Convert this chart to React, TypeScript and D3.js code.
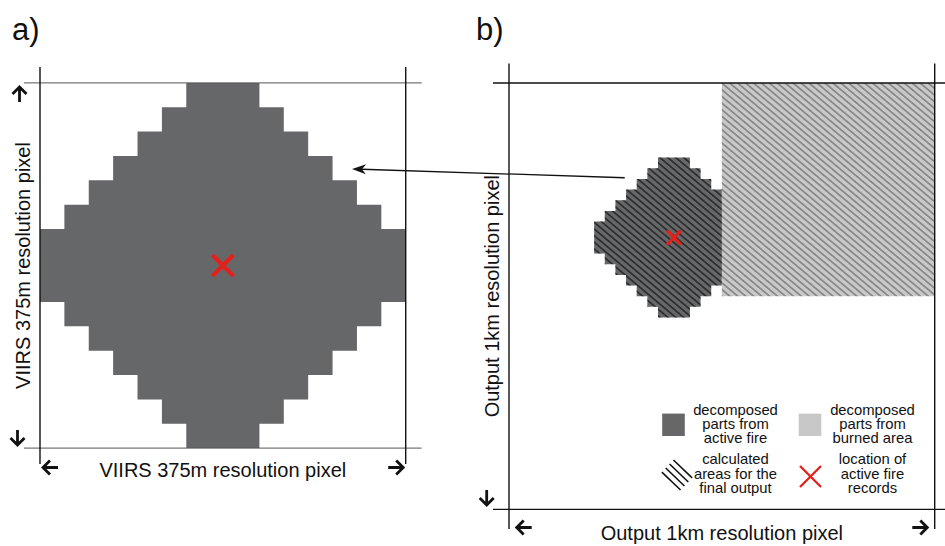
import React from "react";
import * as d3 from "d3";

const W = 945;
const H = 546;

// stepped footprint of one 375m detection, half-width (in sub-cells) of every row
const footprintRows = [1, 2, 3, 4, 5, 6, 7, 7, 7, 6, 5, 4, 3, 2, 1];
const footprintSize = 15;

// panel b: output grid in sub-cells, footprint offset and the burned-area block
const outputGridSize = 40;
const footprintOffsetB = [8, 7];
const burnedBlock = [20, 0, 40, 20]; // x0, y0, x1, y1

const panelTitles = ["a)", "b)"];
const axisLabelA = "VIIRS 375m resolution pixel";
const axisLabelB = "Output 1km resolution pixel";

const legendLabels = [
  ["decomposed", "parts from", "active fire"],
  ["decomposed", "parts from", "burned area"],
  ["calculated", "areas for the", "final output"],
  ["location of", "active fire", "records"],
];
const legendKinds = ["fire", "burned", "hatch", "cross"];

const FONT = "'Liberation Sans', Arial, Helvetica, sans-serif";
const DARK = "#666768";
const LIGHT = "#c8c8c8";
const RED = "#e3211c";
const hatchGap = 5.1;

// polygon outline of the stepped footprint, in grid units
function footprintPoints(x0: number, y0: number) {
  const c = (footprintSize - 1) / 2;
  const left = footprintRows.flatMap((e, r) => [
    [x0 + c - e, y0 + r],
    [x0 + c - e, y0 + r + 1],
  ]);
  const right = footprintRows
    .map((e, r) => [
      [x0 + c + e + 1, y0 + r + 1],
      [x0 + c + e + 1, y0 + r],
    ])
    .reverse()
    .flat();
  return [...left, ...right];
}

// open arrow with tip at (tx,ty) pointing along (dx,dy)
function axisArrow(tx: number, ty: number, dx: number, dy: number, len = 15, head = 7) {
  const bx = tx - dx * len, by = ty - dy * len;
  const hx = tx - dx * head, hy = ty - dy * head;
  const px = -dy, py = dx;
  return `M${bx},${by}L${tx},${ty}M${hx + px * head},${hy + py * head}L${tx},${ty}L${hx - px * head},${hy - py * head}`;
}

function Cross({ cx, cy, r, w }: { cx: number; cy: number; r: number; w: number }) {
  return (
    <path
      d={`M${cx - r},${cy - r}L${cx + r},${cy + r}M${cx - r},${cy + r}L${cx + r},${cy - r}`}
      stroke={RED}
      strokeWidth={w}
      fill="none"
    />
  );
}

export default function App() {
  const xA = d3.scaleLinear().domain([0, footprintSize]).range([40, 405.7]);
  const yA = d3.scaleLinear().domain([0, footprintSize]).range([82.9, 448.1]);
  const xB = d3.scaleLinear().domain([0, outputGridSize]).range([509, 934.7]);
  const yB = d3.scaleLinear().domain([0, outputGridSize]).range([83, 509.4]);

  const outline = (pts: number[][], xs: any, ys: any) =>
    d3.line<number[]>().x((p) => xs(p[0])).y((p) => ys(p[1]))(pts) + "Z";

  const fpA = outline(footprintPoints(0, 0), xA, yA);
  const fpB = outline(footprintPoints(footprintOffsetB[0], footprintOffsetB[1]), xB, yB);
  const mid = footprintSize / 2;

  const frame = (xs: any, ys: any, ext: number, extY: number, light: boolean) => {
    const [x0, x1] = xs.range();
    const [y0, y1] = ys.range();
    return (
      <g>
        {[y0, y1].map((y, i) => (
          <line key={"h" + i} x1={x0 - 16} x2={x1 + ext} y1={y} y2={y}
            stroke={light ? "#555" : "#111"} strokeWidth={light ? 1 : 1.3} />
        ))}
        {[x0, x1].map((x, i) => (
          <line key={"v" + i} x1={x} x2={x} y1={y0 - extY} y2={y1 + extY}
            stroke="#111" strokeWidth={1.4} />
        ))}
      </g>
    );
  };

  // legend placement
  const legCols = [735.5, 872.5];
  const legRows = [414.5, 464.2];
  const lineStep = 14.3;
  const swatchX = [673.5, 810];

  const [bx0, by0, bx1, by1] = burnedBlock;

  // connector from panel b footprint to panel a footprint
  const cStart = [xB(footprintOffsetB[0] + 4) - 12, yB(footprintOffsetB[1] + 2) - 1.2];
  const cEnd = [xA(12) + 19.5, yA(3.5) + 0.8];
  const ang = Math.atan2(cEnd[1] - cStart[1], cEnd[0] - cStart[0]);
  const hl = 14, hw = 5;
  const ux = Math.cos(ang), uy = Math.sin(ang);
  const headPath = `M${cEnd[0]},${cEnd[1]}L${cEnd[0] - ux * hl - uy * hw},${cEnd[1] - uy * hl + ux * hw}L${cEnd[0] - ux * hl * 0.7},${cEnd[1] - uy * hl * 0.7}L${cEnd[0] - ux * hl + uy * hw},${cEnd[1] - uy * hl - ux * hw}Z`;

  return (
    <svg width={W} height={H} style={{ position: "absolute", left: 0, top: 0, background: "#fff" }}
      fontFamily={FONT}>
      <defs>
        <pattern id="hatchDark" patternUnits="userSpaceOnUse" width={hatchGap} height={20}
          patternTransform="rotate(-50)">
          <line x1={hatchGap / 2} x2={hatchGap / 2} y1={0} y2={20} stroke="#000" strokeWidth={0.95} />
        </pattern>
        <pattern id="hatchLight" patternUnits="userSpaceOnUse" width={hatchGap} height={20}
          patternTransform="rotate(-50)">
          <line x1={hatchGap / 2} x2={hatchGap / 2} y1={0} y2={20} stroke="#333" strokeWidth={0.8} />
        </pattern>
      </defs>

      {/* panel titles */}
      <text x={12} y={40} fontSize={31} fill="#111">{panelTitles[0]}</text>
      <text x={476} y={40} fontSize={31} fill="#111">{panelTitles[1]}</text>

      {/* ---- panel a ---- */}
      <path d={fpA} fill={DARK} />
      {frame(xA, yA, 16, 16, true)}
      <Cross cx={xA(mid)} cy={yA(mid)} r={10.5} w={4.3} />
      <text x={xA(mid)} y={477} fontSize={20} textAnchor="middle" fill="#111">{axisLabelA}</text>
      <text transform={`translate(29.5,${yA(mid)}) rotate(-90)`} fontSize={20} textAnchor="middle" fill="#111">
        {axisLabelA}
      </text>
      <g stroke="#111" strokeWidth={2.8} fill="none">
        <path d={axisArrow(19.5, yA.range()[0] + 4, 0, -1)} />
        <path d={axisArrow(17.5, yA.range()[1] - 3, 0, 1)} />
        <path d={axisArrow(xA.range()[0] + 3, 467.5, -1, 0)} />
        <path d={axisArrow(xA.range()[1] - 2.5, 467.5, 1, 0)} />
      </g>

      {/* ---- panel b ---- */}
      <path d={fpB} fill={DARK} />
      <path d={fpB} fill="url(#hatchDark)" />
      <rect x={xB(bx0)} y={yB(by0)} width={xB(bx1) - xB(bx0)} height={yB(by1) - yB(by0)} fill={LIGHT} />
      <rect x={xB(bx0)} y={yB(by0)} width={xB(bx1) - xB(bx0)} height={yB(by1) - yB(by0)} fill="url(#hatchLight)" />
      {frame(xB, yB, 16, 19.5, false)}
      <Cross cx={xB(footprintOffsetB[0] + mid)} cy={yB(footprintOffsetB[1] + mid)} r={7} w={3.2} />
      <text x={xB(outputGridSize / 2)} y={540} fontSize={20} textAnchor="middle" fill="#111">{axisLabelB}</text>
      <text transform={`translate(498.5,${yB(outputGridSize / 2)}) rotate(-90)`} fontSize={20}
        textAnchor="middle" fill="#111">
        {axisLabelB}
      </text>
      <g stroke="#111" strokeWidth={2.8} fill="none">
        <path d={axisArrow(486.7, yB.range()[1] - 4.5, 0, 1)} />
        <path d={axisArrow(xB.range()[0] + 7.7, 527.5, -1, 0)} />
        <path d={axisArrow(xB.range()[1] - 7.4, 527.5, 1, 0)} />
      </g>

      {/* connector */}
      <line x1={cStart[0]} y1={cStart[1]} x2={cEnd[0] - ux * hl * 0.7} y2={cEnd[1] - uy * hl * 0.7}
        stroke="#111" strokeWidth={1.3} />
      <path d={headPath} fill="#111" />

      {/* legend */}
      {legendKinds.map((k, i) => {
        const col = i % 2;
        const row = Math.floor(i / 2);
        const sx = swatchX[col];
        const sy = legRows[row] + 10.3;
        let swatch: React.ReactNode = null;
        if (k === "fire" || k === "burned") {
          swatch = <rect x={sx - 11.3} y={sy - 11.2} width={22.6} height={22.4} fill={k === "fire" ? DARK : LIGHT} />;
        } else if (k === "hatch") {
          const dx = 0.72, dy = 0.69, len = 26;
          swatch = (
            <g stroke="#111" strokeWidth={1.6}>
              {[-8.4, -2.8, 2.8, 8.4].map((o) => {
                const cx = sx + 3.5 + -dy * o, cy = sy + 0.5 + dx * o;
                return <line key={o} x1={cx - (dx * len) / 2} y1={cy - (dy * len) / 2}
                  x2={cx + (dx * len) / 2} y2={cy + (dy * len) / 2} />;
              })}
            </g>
          );
        } else {
          swatch = <Cross cx={sx + 0.5} cy={sy + 2} r={10.5} w={2.3} />;
        }
        return (
          <g key={k}>
            {swatch}
            {legendLabels[i].map((t, j) => (
              <text key={j} x={legCols[col]} y={legRows[row] + j * lineStep} fontSize={14.8}
                textAnchor="middle" fill="#111">
                {t}
              </text>
            ))}
          </g>
        );
      })}
    </svg>
  );
}
